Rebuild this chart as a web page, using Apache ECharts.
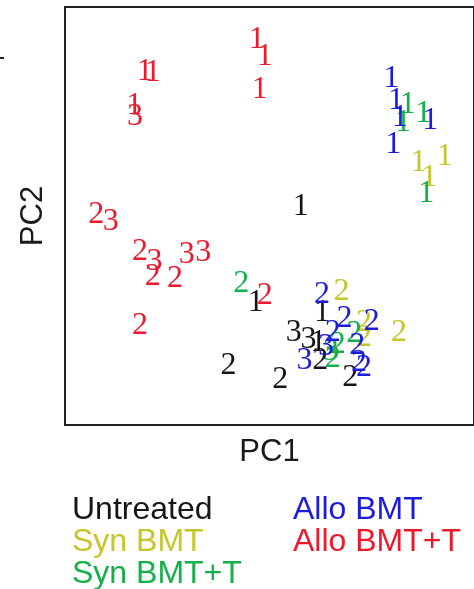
<!DOCTYPE html>
<html>
<head>
<meta charset="utf-8">
<script src="https://cdn.jsdelivr.net/npm/echarts@6/dist/echarts.min.js"></script>
<style>html,body{margin:0;padding:0;background:#fff}#c{width:474px;height:589px}</style>
</head>
<body>
<div id="c"></div>
<script>
// PCA scores: [PC1, PC2, sample label]
var untreated = [
  [10.5, 4.5, '1'], [-1, -19.5, '1'], [-8, -35.25, '2'], [5.25, -38.75, '2'],
  [8.75, -27, '3'], [12.5, -28.75, '3'], [15, -29.5, '1'], [16, -22, '1'],
  [15.5, -34, '2'], [23.25, -38.25, '2']
];
var synBMT = [
  [40.75, 15.5, '1'], [43.5, 11.75, '1'], [47.5, 17, '1'],
  [21, -16.75, '2'], [35.75, -27, '2'], [26.75, -24.5, '2'], [26.75, -28.25, '2']
];
var synBMTT = [
  [38, 30, '1'], [42, 27.75, '1'], [36.75, 25.5, '1'], [42.75, 7.75, '1'],
  [-4.75, -14.75, '2'], [24.25, -27.25, '2'], [18.75, -33.5, '2'], [20, -30, '2'], [18.25, -31.75, '3']
];
var alloBMT = [
  [33.75, 36.5, '1'], [35, 31, '1'], [36, 26.75, '1'], [43.75, 26, '1'], [34.25, 20, '1'],
  [16, -17.5, '2'], [21.75, -23.5, '2'], [28.75, -24.25, '2'], [18.75, -27, '2'],
  [11.5, -34, '3'], [17, -30.5, '3'], [25, -30.25, '2'], [25.5, -34.5, '2'], [26.75, -35.75, '2']
];
var alloBMTT = [
  [-29.5, 38.25, '1'], [-27.5, 38, '1'], [-32.25, 29.75, '1'], [-32, 27, '3'],
  [-42, 2.5, '2'], [-38.25, 0.75, '3'], [-30.75, -6.75, '2'], [-27, -9.25, '3'],
  [-27.5, -13, '2'], [-21.75, -13.5, '2'], [-18.75, -7.5, '3'], [-14.5, -7, '3'],
  [-30.75, -25.25, '2'], [1.25, -17.75, '2'], [-0.75, 46.25, '1'], [1.25, 42, '1'], [0, 33.75, '1']
];
var groupNames = ['Untreated', 'Syn BMT', 'Syn BMT+T', 'Allo BMT', 'Allo BMT+T'];
var groupColors = ['#161616', '#c6c62c', '#16b04a', '#1c1cdc', '#ec1a2c'];
var groupData = [untreated, synBMT, synBMTT, alloBMT, alloBMTT];
var drawOrder = [1, 2, 0, 3, 4];

var series = drawOrder.map(function (i) {
  return {
    name: groupNames[i],
    type: 'scatter',
    data: groupData[i],
    symbol: 'circle',
    symbolSize: 1,
    itemStyle: { color: groupColors[i], opacity: 0 },
    label: {
      show: true,
      position: 'inside',
      formatter: function (p) { return p.value[2]; },
      color: groupColors[i],
      fontFamily: 'Liberation Serif',
      fontSize: 32,
      opacity: 1
    },
    emphasis: { disabled: true },
    silent: true,
    animation: false
  };
});

var legendText = { fontFamily: 'Liberation Sans', fontSize: 32, lineHeight: 31.5 };

var chart = echarts.init(document.getElementById('c'), null, { renderer: 'canvas' });
chart.setOption({
  animation: false,
  grid: {
    left: 65, top: 7, width: 420, height: 418,
    show: true, borderColor: '#222', borderWidth: 2, backgroundColor: 'transparent'
  },
  xAxis: {
    type: 'value', min: -50, max: 55,
    name: 'PC1', nameLocation: 'middle', nameGap: 12,
    nameTextStyle: { fontFamily: 'Liberation Sans', fontSize: 31, color: '#1a1a1a', verticalAlign: 'top' },
    axisLine: { show: false }, axisTick: { show: false }, axisLabel: { show: false }, splitLine: { show: false }
  },
  yAxis: {
    type: 'value', min: -50, max: 54.5,
    name: 'PC2', nameLocation: 'middle', nameGap: 16, nameRotate: 90,
    nameTextStyle: { fontFamily: 'Liberation Sans', fontSize: 31, color: '#1a1a1a' },
    axisLine: { show: false }, axisTick: { show: false }, axisLabel: { show: false }, splitLine: { show: false }
  },
  legend: [
    {
      left: 67, top: 494, height: 120, padding: 0, orient: 'vertical', icon: 'none', itemWidth: 0, itemGap: 0,
      selectedMode: false,
      textStyle: legendText,
      data: [0, 1, 2].map(function (i) {
        return { name: groupNames[i], textStyle: { color: groupColors[i] } };
      })
    },
    {
      left: 288, top: 494, height: 120, padding: 0, orient: 'vertical', icon: 'none', itemWidth: 0, itemGap: 0,
      selectedMode: false,
      textStyle: legendText,
      data: [3, 4].map(function (i) {
        return { name: groupNames[i], textStyle: { color: groupColors[i] } };
      })
    }
  ],
  graphic: [
    { type: 'rect', left: 0, top: 57, shape: { width: 4, height: 2 }, style: { fill: '#222' } }
  ],
  series: series
});
</script>
</body>
</html>
